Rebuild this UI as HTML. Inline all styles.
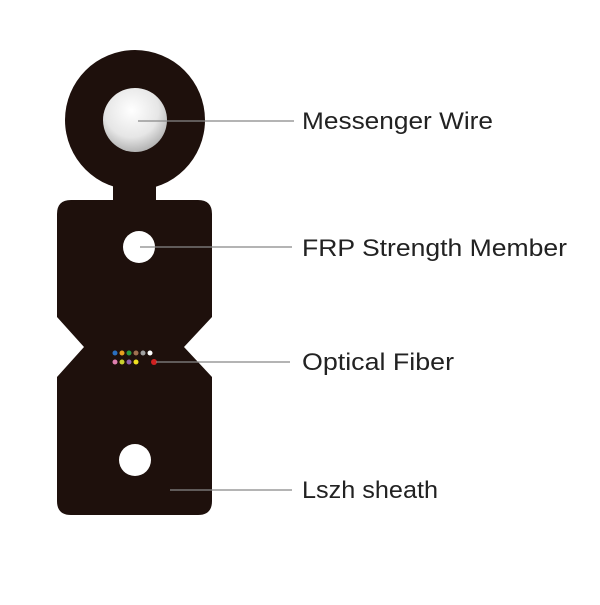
<!DOCTYPE html>
<html><head><style>html,body{margin:0;padding:0;background:#fff;}</style></head>
<body>
<svg width="600" height="600" viewBox="0 0 600 600" xmlns="http://www.w3.org/2000/svg">
<defs>
<radialGradient id="g" cx="0.45" cy="0.35" r="0.7">
<stop offset="0" stop-color="#ffffff"/><stop offset="0.6" stop-color="#e6e6e6"/><stop offset="1" stop-color="#a8a8a8"/>
</radialGradient>
</defs>
<g fill="#1e100c">
<circle cx="135" cy="120" r="70"/>
<rect x="113" y="170" width="43" height="40"/>
<path d="M71,200 H198 Q212,200 212,214 V317 L184,347 L212,377 V501 Q212,515 198,515 H71 Q57,515 57,501 V377 L84,347 L57,317 V214 Q57,200 71,200 Z"/>
</g>
<circle cx="135" cy="120" r="32" fill="url(#g)"/>
<circle cx="139" cy="247" r="16" fill="#fff"/>
<circle cx="135" cy="460" r="16" fill="#fff"/>
<g>
<circle cx="115" cy="353" r="2.5" fill="#2a6fc0"/>
<circle cx="122" cy="353" r="2.5" fill="#e8a020"/>
<circle cx="129" cy="353" r="2.5" fill="#2a9a40"/>
<circle cx="136" cy="353" r="2.5" fill="#a07050"/>
<circle cx="143" cy="353" r="2.5" fill="#a0a0a0"/>
<circle cx="150" cy="353" r="2.5" fill="#fff"/>
<circle cx="115" cy="362" r="2.5" fill="#e080b0"/>
<circle cx="122" cy="362" r="2.5" fill="#c8d030"/>
<circle cx="129" cy="362" r="2.5" fill="#9060b0"/>
<circle cx="136" cy="362" r="2.5" fill="#f0e020"/>
<circle cx="154" cy="362" r="3" fill="#d02020"/>
</g>
<g stroke="#888" stroke-width="1.2">
<line x1="138" y1="121" x2="294" y2="121"/>
<line x1="140" y1="247" x2="292" y2="247"/>
<line x1="156" y1="362" x2="290" y2="362"/>
<line x1="170" y1="490" x2="292" y2="490"/>
</g>
<g fill="#222" font-family="Liberation Sans, sans-serif" font-size="24">
<text x="302" y="129" textLength="191" lengthAdjust="spacingAndGlyphs">Messenger Wire</text>
<text x="302" y="256" textLength="265" lengthAdjust="spacingAndGlyphs">FRP  Strength Member</text>
<text x="302" y="370" textLength="152" lengthAdjust="spacingAndGlyphs">Optical Fiber</text>
<text x="302" y="498" textLength="136" lengthAdjust="spacingAndGlyphs">Lszh sheath</text>
</g>
</svg>
</body></html>
